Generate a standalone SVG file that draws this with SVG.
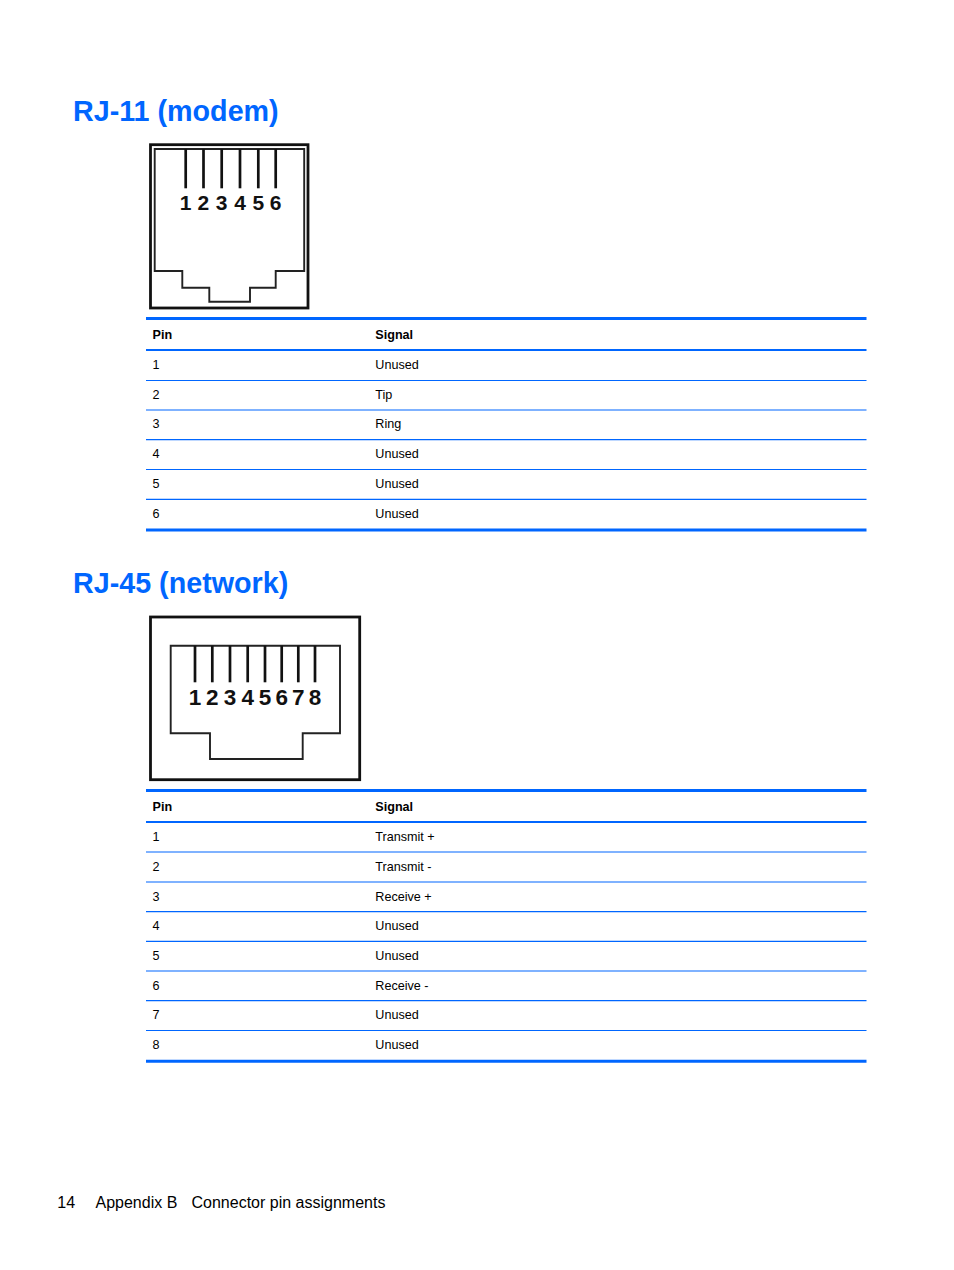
<svg xmlns="http://www.w3.org/2000/svg" width="954" height="1270" viewBox="0 0 954 1270">
<style>
text{font-family:"Liberation Sans",Arial,Helvetica,sans-serif;fill:#000}
.title{font-size:28.7px;font-weight:bold;fill:#0066ff}
.th{font-size:12.6px;font-weight:bold}
.td{font-size:12.6px}
.thick{stroke:#0066ff;stroke-width:3}
.mid{stroke:#0066ff;stroke-width:2}
.thin{stroke:#0066ff;stroke-width:1.2}
.frame{fill:none;stroke:#111;stroke-width:2.8}
.inner{fill:none;stroke:#222;stroke-width:1.9}
.pin{stroke:#111;stroke-width:2.7}
.dig{font-weight:bold;fill:#111;text-anchor:middle}
.foot{font-size:16px}
</style>
<rect width="954" height="1270" fill="#fff"/>

<g id="rj11-title"><text class="title" x="73" y="120.8">RJ-11 (modem)</text></g>

<g id="rj11-jack">
<rect class="frame" x="150.5" y="144.7" width="157.5" height="163.3"/>
<path class="inner" d="M154.7,271 V149 H304.2 V271 H275.7 V287.7 H250 V301.7 H209.3 V287.7 H182.3 V271 Z"/>
<g class="pin">
<line x1="185.7" y1="149" x2="185.7" y2="188.3"/>
<line x1="203.5" y1="149" x2="203.5" y2="188.3"/>
<line x1="221.7" y1="149" x2="221.7" y2="188.3"/>
<line x1="240" y1="149" x2="240" y2="188.3"/>
<line x1="258.3" y1="149" x2="258.3" y2="188.3"/>
<line x1="275.7" y1="149" x2="275.7" y2="188.3"/>
</g>
<g font-size="21">
<text class="dig" x="185.5" y="210.3">1</text>
<text class="dig" x="203.3" y="210.3">2</text>
<text class="dig" x="221.5" y="210.3">3</text>
<text class="dig" x="240" y="210.3">4</text>
<text class="dig" x="258.3" y="210.3">5</text>
<text class="dig" x="275.5" y="210.3">6</text>
</g>
</g>

<g id="rj11-table">
<line class="thick" x1="146" y1="318.6" x2="866.5" y2="318.6"/>
<line class="mid" x1="146" y1="350" x2="866.5" y2="350"/>
<line class="thin" x1="146" y1="380.5" x2="866.5" y2="380.5"/>
<line class="thin" x1="146" y1="410" x2="866.5" y2="410"/>
<line class="thin" x1="146" y1="439.7" x2="866.5" y2="439.7"/>
<line class="thin" x1="146" y1="469.5" x2="866.5" y2="469.5"/>
<line class="thin" x1="146" y1="499.3" x2="866.5" y2="499.3"/>
<line class="thick" x1="146" y1="530" x2="866.5" y2="530" stroke-width="3.3"/>
<text class="th" x="152.5" y="339.3">Pin</text>
<text class="th" x="375.3" y="339.3">Signal</text>
<text class="td" x="152.5" y="368.8">1</text><text class="td" x="375.3" y="368.8">Unused</text>
<text class="td" x="152.5" y="398.6">2</text><text class="td" x="375.3" y="398.6">Tip</text>
<text class="td" x="152.5" y="428.4">3</text><text class="td" x="375.3" y="428.4">Ring</text>
<text class="td" x="152.5" y="458">4</text><text class="td" x="375.3" y="458">Unused</text>
<text class="td" x="152.5" y="487.8">5</text><text class="td" x="375.3" y="487.8">Unused</text>
<text class="td" x="152.5" y="517.5">6</text><text class="td" x="375.3" y="517.5">Unused</text>
</g>

<g id="rj45-title"><text class="title" x="73" y="592.8">RJ-45 (network)</text></g>

<g id="rj45-jack">
<rect class="frame" x="150.5" y="617" width="209.2" height="162.7"/>
<path class="inner" d="M170.7,733.3 V645.8 H340 V733.3 H302.7 V759 H210 V733.3 Z"/>
<g class="pin">
<line x1="195" y1="645.8" x2="195" y2="682.3"/>
<line x1="212.3" y1="645.8" x2="212.3" y2="682.3"/>
<line x1="230" y1="645.8" x2="230" y2="682.3"/>
<line x1="247.7" y1="645.8" x2="247.7" y2="682.3"/>
<line x1="265" y1="645.8" x2="265" y2="682.3"/>
<line x1="281.7" y1="645.8" x2="281.7" y2="682.3"/>
<line x1="298.3" y1="645.8" x2="298.3" y2="682.3"/>
<line x1="315" y1="645.8" x2="315" y2="682.3"/>
</g>
<g font-size="22.5">
<text class="dig" x="195" y="705">1</text>
<text class="dig" x="212.3" y="705">2</text>
<text class="dig" x="230" y="705">3</text>
<text class="dig" x="247.7" y="705">4</text>
<text class="dig" x="265" y="705">5</text>
<text class="dig" x="281.7" y="705">6</text>
<text class="dig" x="298.3" y="705">7</text>
<text class="dig" x="315" y="705">8</text>
</g>
</g>

<g id="rj45-table">
<line class="thick" x1="146" y1="790.4" x2="866.5" y2="790.4"/>
<line class="mid" x1="146" y1="822" x2="866.5" y2="822"/>
<line class="thin" x1="146" y1="852" x2="866.5" y2="852"/>
<line class="thin" x1="146" y1="882" x2="866.5" y2="882"/>
<line class="thin" x1="146" y1="911.6" x2="866.5" y2="911.6"/>
<line class="thin" x1="146" y1="941.3" x2="866.5" y2="941.3"/>
<line class="thin" x1="146" y1="971" x2="866.5" y2="971"/>
<line class="thin" x1="146" y1="1000.7" x2="866.5" y2="1000.7"/>
<line class="thin" x1="146" y1="1030.5" x2="866.5" y2="1030.5"/>
<line class="thick" x1="146" y1="1061.3" x2="866.5" y2="1061.3" stroke-width="3.3"/>
<text class="th" x="152.5" y="811">Pin</text>
<text class="th" x="375.3" y="811">Signal</text>
<text class="td" x="152.5" y="841.3">1</text><text class="td" x="375.3" y="841.3">Transmit +</text>
<text class="td" x="152.5" y="870.8">2</text><text class="td" x="375.3" y="870.8">Transmit -</text>
<text class="td" x="152.5" y="900.6">3</text><text class="td" x="375.3" y="900.6">Receive +</text>
<text class="td" x="152.5" y="930.3">4</text><text class="td" x="375.3" y="930.3">Unused</text>
<text class="td" x="152.5" y="960">5</text><text class="td" x="375.3" y="960">Unused</text>
<text class="td" x="152.5" y="989.7">6</text><text class="td" x="375.3" y="989.7">Receive -</text>
<text class="td" x="152.5" y="1019.4">7</text><text class="td" x="375.3" y="1019.4">Unused</text>
<text class="td" x="152.5" y="1049">8</text><text class="td" x="375.3" y="1049">Unused</text>
</g>

<g id="footer">
<text class="foot" x="57.3" y="1207.5">14</text>
<text class="foot" x="95.5" y="1207.5">Appendix B</text>
<text class="foot" x="191.5" y="1207.5">Connector pin assignments</text>
</g>
</svg>
